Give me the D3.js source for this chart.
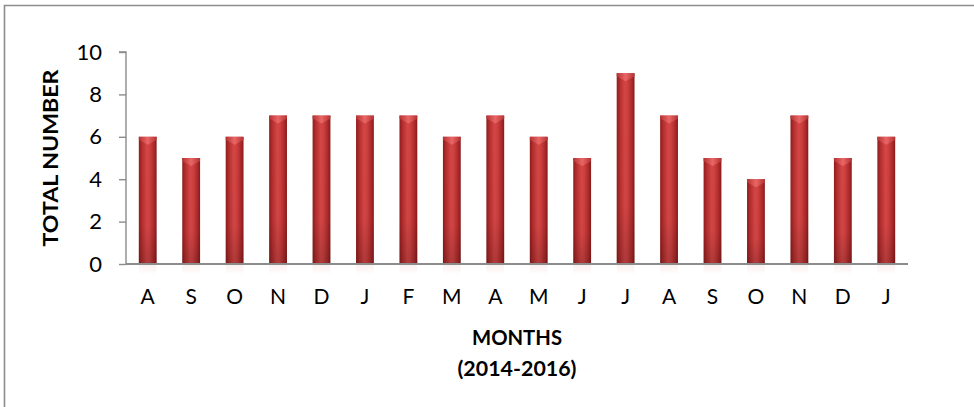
<!DOCTYPE html>
<html>
<head>
<meta charset="utf-8">
<script src="https://cdn.jsdelivr.net/npm/d3@7/dist/d3.min.js"></script>
<style>
  html, body { margin: 0; padding: 0; background: #fff; }
  svg { display: block; }
  text { font-family: Lato, "Open Sans", sans-serif; fill: #000; }
</style>
</head>
<body>
<svg id="chart" width="974" height="407"></svg>
<script>
// Monthly totals, Aug 2014 – Jan 2016
const months = ["A", "S", "O", "N", "D", "J", "F", "M", "A", "M", "J", "J", "A", "S", "O", "N", "D", "J"];
const totals = [6, 5, 6, 7, 7, 7, 7, 6, 7, 6, 5, 9, 7, 5, 4, 7, 5, 6];
const yTicks = [0, 2, 4, 6, 8, 10];

const svg = d3.select("#chart");
const plotLeft = 126, plotRight = 908, plotTop = 52, plotBottom = 264;

// Outer frame (top and left edges visible)
svg.append("path")
  .attr("d", "M4.5,407 L4.5,5.5 L974,5.5")
  .attr("fill", "none")
  .attr("stroke", "#8c8c8c")
  .attr("stroke-width", 1.6);

const x = d3.scaleBand()
  .domain(d3.range(months.length))
  .range([plotLeft, plotRight])
  .paddingInner(0.59)
  .paddingOuter(0.295);

const y = d3.scaleLinear().domain([0, 10]).range([plotBottom, plotTop]);

const defs = svg.append("defs");
const body = defs.append("linearGradient").attr("id", "barBody")
  .attr("x1", "0").attr("x2", "1").attr("y1", "0").attr("y2", "0");
[[0, "#8e1c1c"], [0.18, "#b52e2e"], [0.45, "#d44646"], [0.6, "#cf4141"], [0.85, "#ad2a2a"], [1, "#861a1a"]]
  .forEach(([o, c]) => body.append("stop").attr("offset", o).attr("stop-color", c));

const shade = defs.append("linearGradient").attr("id", "barShade")
  .attr("x1", "0").attr("x2", "0").attr("y1", "0").attr("y2", "1");
[[0, "#000", 0], [0.7, "#000", 0.02], [1, "#000", 0.18]]
  .forEach(([o, c, a]) => shade.append("stop").attr("offset", o).attr("stop-color", c).attr("stop-opacity", a));

const refl = defs.append("linearGradient").attr("id", "barRefl")
  .attr("x1", "0").attr("x2", "0").attr("y1", "0").attr("y2", "1");
[[0, "#cc4444", 0.08], [1, "#cc4444", 0]]
  .forEach(([o, c, a]) => refl.append("stop").attr("offset", o).attr("stop-color", c).attr("stop-opacity", a));

const capGrad = defs.append("linearGradient").attr("id", "barCap")
  .attr("x1", "0").attr("x2", "1").attr("y1", "0").attr("y2", "0");
[[0, "#b83434"], [0.5, "#ec6a6a"], [1, "#b83434"]]
  .forEach(([o, c]) => capGrad.append("stop").attr("offset", o).attr("stop-color", c));

const bars = svg.append("g").selectAll("g").data(totals).join("g");

// faint reflection under the baseline
bars.append("rect")
  .attr("x", (d, i) => x(i))
  .attr("y", plotBottom + 1)
  .attr("width", x.bandwidth())
  .attr("height", 10)
  .attr("fill", "url(#barRefl)");

bars.append("rect")
  .attr("x", (d, i) => x(i))
  .attr("y", d => y(d))
  .attr("width", x.bandwidth())
  .attr("height", d => y(0) - y(d))
  .attr("fill", "url(#barBody)");

bars.append("rect")
  .attr("x", (d, i) => x(i))
  .attr("y", d => y(d))
  .attr("width", x.bandwidth())
  .attr("height", d => y(0) - y(d))
  .attr("fill", "url(#barShade)");

// bevelled top: light strip with a downward chevron
bars.append("path")
  .attr("d", (d, i) => {
    const x0 = x(i), w = x.bandwidth(), t = y(d);
    return `M${x0},${t} L${x0 + w},${t} L${x0 + w},${t + 3} L${x0 + w / 2},${t + 8} L${x0},${t + 3} Z`;
  })
  .attr("fill", "url(#barCap)")
  .attr("opacity", 0.9);

// Y axis
const yAxis = svg.append("g")
  .attr("transform", `translate(${plotLeft},0)`)
  .call(d3.axisLeft(y).tickValues(yTicks).tickSize(7).tickPadding(17).tickFormat(d3.format("d")));
yAxis.select(".domain").attr("stroke", "#8c8c8c").attr("stroke-width", 1.4).attr("d", `M-7,${plotTop}H0V${plotBottom}`);
yAxis.selectAll(".tick line").attr("stroke", "#8c8c8c").attr("stroke-width", 1.4);
yAxis.selectAll(".tick text").attr("font-size", 22).attr("fill", "#000")
  .style("font-family", "Lato, sans-serif");

// X axis
const xAxis = svg.append("g")
  .attr("transform", `translate(0,${plotBottom})`)
  .call(d3.axisBottom(x).tickSize(0).tickPadding(25).tickFormat(i => months[i]));
xAxis.select(".domain").attr("stroke", "#8c8c8c").attr("stroke-width", 2).attr("d", `M${plotLeft},0H${plotRight}`);
xAxis.selectAll(".tick text").attr("font-size", 21).attr("fill", "#000")
  .style("font-family", "Lato, sans-serif");

// Axis titles
svg.append("text")
  .attr("transform", "translate(58,158) rotate(-90)")
  .attr("text-anchor", "middle")
  .attr("font-size", 21)
  .attr("font-weight", "bold")
  .attr("textLength", 177)
  .attr("lengthAdjust", "spacingAndGlyphs")
  .text("TOTAL NUMBER");

svg.append("text")
  .attr("x", 517).attr("y", 345)
  .attr("text-anchor", "middle")
  .attr("font-size", 20)
  .attr("font-weight", "bold")
  .attr("textLength", 90)
  .attr("lengthAdjust", "spacingAndGlyphs")
  .text("MONTHS");

svg.append("text")
  .attr("x", 517).attr("y", 376)
  .attr("text-anchor", "middle")
  .attr("font-size", 20)
  .attr("font-weight", "bold")
  .attr("textLength", 119)
  .attr("lengthAdjust", "spacingAndGlyphs")
  .text("(2014-2016)");
</script>
</body>
</html>
